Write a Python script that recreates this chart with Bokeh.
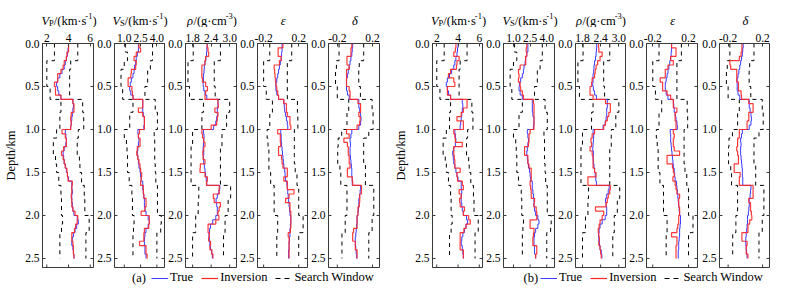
import numpy as np
from bokeh.plotting import figure
from bokeh.layouts import row, column
from bokeh.models import (Range1d, FixedTicker, PrintfTickFormatter,
                          Label, Legend, LegendItem)
from bokeh.embed import file_html
from bokeh.resources import INLINE

# ---------------------------------------------------------------- data
# true / inversion profiles: 50 layers of 0.05 km from 0 to 2.5 km
layer_dz = 0.05
n_layers = 50
# search-window bounds: layer boundaries (km)
win_z = [0.0, 0.1, 0.2, 0.3, 0.4, 0.5, 0.65, 0.8, 1.0, 1.1, 1.2, 1.3, 1.4, 1.5,
         1.65, 1.8, 2.0, 2.1, 2.2, 2.3, 2.4, 2.5]

vp_true = [4.0, 3.95, 3.9, 3.8, 3.7, 3.6, 3.4, 3.2, 3.0, 2.9,
           3.0, 3.1, 3.3, 4.4, 4.45, 4.4, 4.35, 4.3, 4.25, 4.2,
           3.7, 3.75, 3.8, 3.75, 3.6, 3.5, 3.55, 3.6, 3.7, 3.8,
           3.9, 4.0, 4.3, 4.3, 4.35, 4.3, 4.3, 4.35, 4.4, 4.5,
           4.8, 4.9, 4.75, 4.6, 4.45, 4.35, 4.3, 4.4, 4.45, 4.5]
vp_inv_a = [4.0, 4.0, 3.85, 3.8, 3.6, 3.5, 3.3, 3.0, 3.0, 2.7,
            2.8, 2.8, 3.3, 4.4, 4.5, 4.5, 4.25, 4.2, 4.25, 4.2,
            3.4, 3.7, 3.8, 3.8, 3.55, 3.35, 3.5, 3.6, 3.7, 3.85,
            3.9, 3.95, 4.35, 4.3, 4.3, 4.25, 4.3, 4.3, 4.4, 4.6,
            4.85, 4.8, 4.65, 4.55, 4.3, 4.3, 4.4, 4.45, 4.45, 4.5]
vp_inv_b = [3.8, 3.75, 3.6, 4.1, 3.9, 3.85, 3.3, 3.1, 3.6, 3.7,
            3.0, 3.0, 3.3, 4.85, 4.85, 4.5, 4.3, 3.9, 4.5, 4.5,
            3.6, 3.7, 3.75, 4.4, 3.6, 3.6, 3.65, 3.7, 3.7, 4.2,
            3.9, 3.95, 4.4, 4.5, 4.1, 4.3, 4.15, 4.2, 4.6, 4.5,
            5.0, 5.15, 4.75, 4.55, 4.2, 4.2, 4.2, 4.2, 4.5, 4.5]
vp_lo = [2.7, 2.7, 2.0, 2.0, 2.0, 2.3, 3.3, 3.2, 2.9, 2.6, 2.6, 2.8, 2.9, 3.1,
         3.3, 3.35, 3.45, 3.35, 3.2, 3.2, 3.2]
vp_hi = [4.85, 4.85, 4.2, 4.1, 4.1, 4.1, 5.3, 5.4, 4.9, 4.8, 4.8, 5.0, 5.05, 5.2,
         5.45, 5.5, 5.9, 5.9, 5.6, 5.6, 5.6]

vs_true = [2.3, 2.3, 2.2, 2.1, 2.05, 1.95, 1.9, 1.8, 1.65, 1.55,
           1.5, 1.6, 1.8, 2.7, 2.7, 2.7, 2.75, 2.85, 2.85, 2.8,
           2.25, 2.3, 2.35, 2.3, 2.25, 2.2, 2.25, 2.3, 2.35, 2.45,
           2.5, 2.55, 2.7, 2.7, 2.75, 2.8, 2.85, 2.85, 2.9, 3.0,
           3.2, 3.3, 3.2, 3.0, 2.9, 2.85, 2.85, 2.9, 2.9, 3.0]
vs_inv_a = [2.35, 2.5, 2.1, 1.9, 2.1, 2.05, 1.65, 1.6, 1.35, 1.35,
            1.7, 1.75, 1.8, 2.7, 2.7, 2.3, 2.7, 2.85, 2.85, 2.85,
            2.4, 2.3, 2.45, 2.45, 2.2, 2.15, 2.25, 2.35, 2.45, 2.5,
            2.6, 2.55, 2.5, 2.75, 2.75, 2.8, 3.0, 3.0, 2.9, 2.55,
            3.3, 3.3, 3.25, 2.85, 2.8, 2.8, 2.4, 3.0, 3.0, 3.1]
vs_inv_b = [2.2, 2.15, 2.2, 2.1, 2.1, 1.6, 1.45, 1.5, 1.45, 1.6,
            1.65, 1.8, 1.9, 2.8, 2.85, 2.85, 2.85, 2.85, 2.85, 2.85,
            2.5, 2.4, 2.4, 2.35, 2.0, 2.0, 2.3, 2.3, 2.4, 2.6,
            2.6, 2.6, 2.5, 2.55, 2.6, 2.6, 2.9, 2.85, 3.05, 3.1,
            3.1, 2.5, 2.5, 2.85, 2.8, 2.75, 2.75, 3.1, 3.1, 3.0]
vs_lo = [1.1, 1.3, 1.0, 0.7, 0.7, 0.85, 1.8, 1.5, 1.0, 1.2, 1.25, 1.3, 1.3, 1.45,
         1.7, 1.75, 1.9, 1.85, 1.8, 1.8, 1.8]
vs_hi = [3.6, 3.6, 3.4, 3.15, 3.15, 2.9, 3.85, 4.05, 3.75, 3.8, 3.8, 3.8, 3.85, 3.9,
         4.05, 4.05, 4.4, 4.35, 4.0, 4.0, 4.0]

rho_true = [2.27, 2.26, 2.25, 2.23, 2.2, 2.18, 2.17, 2.15, 2.15, 2.14,
            2.16, 2.2, 2.26, 2.62, 2.62, 2.6, 2.6, 2.58, 2.55, 2.48,
            2.15, 2.17, 2.16, 2.15, 2.14, 2.16, 2.15, 2.16, 2.18, 2.2,
            2.22, 2.24, 2.26, 2.68, 2.65, 2.6, 2.56, 2.58, 2.6, 2.6,
            2.55, 2.45, 2.38, 2.35, 2.33, 2.34, 2.36, 2.38, 2.42, 2.44]
rho_inv_a = [2.27, 2.3, 2.32, 2.22, 2.2, 2.1, 2.1, 2.1, 2.12, 2.22,
             2.28, 2.22, 2.2, 2.62, 2.63, 2.52, 2.62, 2.6, 2.58, 2.4,
             2.1, 2.12, 2.16, 2.2, 2.16, 2.13, 2.14, 2.2, 2.05, 2.04,
             2.2, 2.28, 2.25, 2.66, 2.66, 2.47, 2.5, 2.7, 2.66, 2.62,
             2.65, 2.55, 2.3, 2.3, 2.34, 2.32, 2.38, 2.36, 2.42, 2.46]
rho_inv_b = [2.33, 2.34, 2.45, 2.38, 2.3, 2.25, 2.22, 2.2, 2.12, 2.1,
             2.05, 2.05, 2.15, 2.56, 2.72, 2.72, 2.67, 2.62, 2.56, 2.5,
             2.2, 2.12, 2.08, 2.1, 2.05, 2.12, 2.15, 2.15, 2.15, 2.2,
             2.25, 1.98, 1.98, 2.72, 2.7, 2.65, 2.62, 2.58, 2.23, 2.5,
             2.45, 2.38, 2.35, 2.32, 2.34, 2.36, 2.34, 2.38, 2.4, 2.42]
rho_lo = [1.82, 1.82, 1.65, 1.65, 1.65, 1.7, 2.15, 2.1, 1.8, 1.8, 1.75, 1.75, 1.75,
          1.75, 2.0, 1.98, 1.9, 1.9, 1.8, 1.8, 1.8]
rho_hi = [2.7, 2.7, 2.5, 2.5, 2.5, 2.53, 3.0, 2.9, 2.75, 2.75, 2.7, 2.7, 2.7, 2.7,
          3.03, 2.95, 2.85, 2.85, 2.8, 2.8, 2.8]

eps_true = [0.01, 0.01, 0.005, 0.0, -0.01, -0.02, -0.03, -0.04, -0.05, -0.06,
            -0.06, -0.05, -0.03, 0.03, 0.035, 0.04, 0.05, 0.06, 0.07, 0.075,
            -0.005, 0.0, 0.0, 0.005, 0.01, 0.015, 0.02, 0.025, 0.03, 0.04,
            0.045, 0.05, 0.065, 0.07, 0.075, 0.08, 0.085, 0.09, 0.095, 0.1,
            0.11, 0.11, 0.105, 0.1, 0.1, 0.095, 0.09, 0.09, 0.085, 0.085]
eps_inv_a = [0.02, -0.035, -0.035, 0.0, -0.02, -0.08, -0.075, -0.07, -0.065, -0.06,
             -0.05, -0.04, -0.03, 0.03, 0.06, 0.06, 0.07, 0.1, 0.1, 0.11,
             -0.04, -0.01, -0.01, -0.005, -0.03, -0.03, 0.005, 0.01, 0.02, 0.07,
             0.07, 0.03, 0.07, 0.07, 0.146, 0.09, 0.05, 0.1, 0.1, 0.11,
             0.11, 0.11, 0.11, 0.105, 0.08, 0.09, 0.09, 0.09, 0.09, 0.09]
eps_inv_b = [0.01, 0.06, 0.06, 0.0, 0.03, -0.03, -0.06, -0.06, -0.117, -0.09,
             -0.09, -0.04, 0.0, 0.03, 0.03, 0.07, 0.05, 0.05, 0.06, 0.06,
             0.03, 0.04, 0.03, 0.03, 0.04, 0.1, -0.04, -0.04, 0.02, 0.03,
             0.04, 0.025, 0.05, 0.06, 0.07, 0.1, 0.09, 0.09, 0.1, 0.1,
             0.09, 0.09, 0.08, 0.07, 0.01, 0.07, 0.07, 0.06, 0.06, 0.06]
eps_lo = [-0.13, -0.13, -0.2, -0.2, -0.2, -0.17, -0.1, -0.13, -0.16, -0.15, -0.14,
          -0.14, -0.14, -0.12, -0.08, -0.08, -0.04, -0.04, -0.05, -0.05, -0.05]
eps_hi = [0.12, 0.12, 0.07, 0.07, 0.07, 0.07, 0.185, 0.19, 0.15, 0.15, 0.15, 0.15,
          0.16, 0.18, 0.2, 0.2, 0.25, 0.25, 0.2, 0.2, 0.2]

delta_true = [-0.025, -0.03, -0.035, -0.045, -0.055, -0.065, -0.075, -0.085, -0.095, -0.095,
              -0.095, -0.085, -0.065, 0.045, 0.045, 0.055, 0.065, 0.07, 0.065, 0.045,
              -0.035, -0.045, -0.055, -0.05, -0.055, -0.055, -0.05, -0.045, -0.04, -0.035,
              -0.035, -0.03, -0.03, 0.065, 0.06, 0.055, 0.045, 0.045, 0.04, 0.035,
              0.025, 0.025, 0.02, 0.015, 0.01, 0.005, 0.005, 0.01, 0.015, 0.02]
delta_inv_a = [-0.035, -0.045, -0.045, -0.09, -0.09, -0.065, -0.095, -0.095, -0.095, -0.095,
               -0.065, -0.055, -0.055, 0.035, 0.065, 0.065, 0.045, 0.06, 0.055, 0.025,
               -0.095, -0.065, -0.125, -0.085, -0.075, -0.075, -0.065, -0.065, -0.055, -0.085,
               -0.085, -0.03, -0.025, 0.075, 0.075, 0.055, 0.055, 0.05, 0.035, 0.035,
               0.025, 0.025, 0.025, -0.015, -0.025, -0.025, 0.005, 0.005, 0.025, 0.025]
delta_inv_b = [-0.04, -0.04, -0.05, -0.07, -0.18, -0.17, -0.1, -0.1, -0.1, -0.08,
               -0.08, -0.05, -0.045, 0.04, 0.09, 0.09, 0.04, 0.04, 0.02, 0.02,
               -0.07, -0.07, -0.09, -0.09, -0.1, -0.09, -0.08, -0.08, -0.13, -0.13,
               -0.06, -0.07, -0.07, 0.09, 0.09, 0.09, 0.04, 0.06, 0.06, 0.07,
               0.075, 0.05, 0.03, 0.03, -0.04, -0.04, 0.02, 0.01, 0.01, 0.03]
delta_lo = [-0.18, -0.18, -0.21, -0.22, -0.22, -0.2, -0.07, -0.09, -0.15, -0.19, -0.195,
            -0.195, -0.17, -0.16, -0.09, -0.09, -0.11, -0.11, -0.147, -0.147, -0.147]
delta_hi = [0.1, 0.1, 0.05, 0.044, 0.044, 0.063, 0.196, 0.207, 0.158, 0.1, 0.1, 0.1,
            0.12, 0.12, 0.215, 0.215, 0.196, 0.196, 0.158, 0.158, 0.158]

y_ticks = [0.0, 0.5, 1.0, 1.5, 2.0, 2.5]
legend_labels = ["True", "Inversion", "Search Window"]
group_tags = ["(a)", "(b)"]

# ---------------------------------------------------------------- style
FONT = "Liberation Serif"
BLUE = "#3b3bff"
RED = "#ff2424"
FRAME = "#3a3a3a"
DEPTH_MAX = 2.605
TITLE_H = 27
LEG_H = 20
PANEL_H = 290 - TITLE_H - LEG_H
ADV = {"V": 0.611, "P": 0.556, "S": 0.556, "/": 0.278, "(": 0.333, ")": 0.333,
       "k": 0.5, "m": 0.778, "·": 0.25, "s": 0.389, "-": 0.333, "1": 0.5, "3": 0.5,
       "g": 0.5, "c": 0.444, "ρ": 0.52, "ε": 0.44, "δ": 0.5}

params = [
    dict(xr=(1.6, 6.3), ticks=[2, 4, 6], fmt="%d",
         title=[("V", "i"), ("P", "sub"), ("/(km·s", "n"), ("-1", "sup"), (")", "n")],
         true=vp_true, lo=vp_lo, hi=vp_hi, inv=[vp_inv_a, vp_inv_b]),
    dict(xr=(0.1, 4.7), ticks=[1.0, 2.5, 4.0], fmt="%.1f",
         title=[("V", "i"), ("S", "sub"), ("/(km·s", "n"), ("-1", "sup"), (")", "n")],
         true=vs_true, lo=vs_lo, hi=vs_hi, inv=[vs_inv_a, vs_inv_b]),
    dict(xr=(1.57, 3.22), ticks=[1.8, 2.4, 3.0], fmt="%.1f",
         title=[("ρ", "i"), ("/(g·cm", "n"), ("-3", "sup"), (")", "n")],
         true=rho_true, lo=rho_lo, hi=rho_hi, inv=[rho_inv_a, rho_inv_b]),
    dict(xr=(-0.27, 0.30), ticks=[-0.2, 0.2], fmt="%.1f",
         title=[("ε", "i")],
         true=eps_true, lo=eps_lo, hi=eps_hi, inv=[eps_inv_a, eps_inv_b]),
    dict(xr=(-0.30, 0.28), ticks=[-0.2, 0.2], fmt="%.1f",
         title=[("δ", "i")],
         true=delta_true, lo=delta_lo, hi=delta_hi, inv=[delta_inv_a, delta_inv_b]),
]

# frame left edge and width (px) of every panel; right borders
frames = [(42, 51), (113, 51), (185, 51), (257, 50), (328, 51),
          (432, 50), (503, 51), (574, 51), (646, 51), (719, 50)]
right_pad = [1, 1, 1, 1, 11, 1, 1, 1, 1, 24]

prof_z = list(np.round(np.arange(n_layers + 1) * layer_dz, 3))


def stairs(vals, bounds):
    xs, ys = [], []
    for k, v in enumerate(vals):
        xs += [v, v]
        ys += [bounds[k], bounds[k + 1]]
    return xs, ys


def text_w(t, size):
    return sum(ADV.get(ch, 0.5) for ch in t) * size


def style_axis(ax):
    ax.major_tick_in = 3
    ax.major_tick_out = 0
    ax.minor_tick_in = 0
    ax.minor_tick_out = 0
    ax.axis_line_color = FRAME
    ax.major_tick_line_color = FRAME
    ax.major_label_text_font = FONT
    ax.major_label_text_font_size = "11.5px"
    ax.major_label_text_color = "black"
    ax.major_label_standoff = 3


# ---------------------------------------------------------------- title row
pt = figure(width=793, height=TITLE_H, x_range=Range1d(0, 793),
            y_range=Range1d(0, TITLE_H), toolbar_location=None,
            output_backend="svg", min_border=0, x_axis_type=None, y_axis_type=None)
pt.outline_line_color = None
pt.background_fill_color = "white"
pt.border_fill_color = "white"


def add_title(segs, xc):
    sizes = {"i": 12.5, "n": 12.5, "sub": 8.5, "sup": 8.5}
    widths = [text_w(t, sizes[s]) for t, s in segs]
    x0 = -sum(widths) / 2.0
    for (t, s), w in zip(segs, widths):
        dy = {"sub": -2.5, "sup": 5.0}.get(s, 0.0)
        pt.add_layout(Label(x=xc, y=7.0, x_offset=x0, y_offset=dy, text=t,
                            text_font=FONT, text_font_size=f"{sizes[s]}px",
                            text_font_style="italic" if s == "i" else "normal",
                            text_align="left", text_baseline="alphabetic",
                            text_color="black"))
        x0 += w


# ---------------------------------------------------------------- panels
panels = []
cursor = 0
for k, (fx, fw) in enumerate(frames):
    g = k // 5
    prm = params[k % 5]
    L = fx - cursor
    R = right_pad[k]
    W = L + fw + R
    cursor += W
    p = figure(width=W, height=PANEL_H, x_range=Range1d(*prm["xr"]),
               y_range=Range1d(DEPTH_MAX, 0), x_axis_location="above",
               toolbar_location=None, output_backend="svg",
               min_border_left=L, min_border_right=R, min_border_top=43 - TITLE_H,
               min_border_bottom=3)
    p.grid.visible = False
    p.outline_line_color = FRAME
    p.outline_line_width = 1
    p.background_fill_color = "white"
    p.border_fill_color = "white"

    xa = p.xaxis[0]
    ya = p.yaxis[0]
    xa.ticker = FixedTicker(ticks=prm["ticks"])
    xa.formatter = PrintfTickFormatter(format=prm["fmt"])
    ya.ticker = FixedTicker(ticks=y_ticks)
    ya.formatter = PrintfTickFormatter(format="%.1f")
    style_axis(xa)
    style_axis(ya)
    xa.major_label_standoff = 2
    if k % 5 == 0:
        ya.axis_label = "Depth/km"
        ya.axis_label_text_font = FONT
        ya.axis_label_text_font_size = "12.5px"
        ya.axis_label_text_font_style = "normal"
        ya.axis_label_text_color = "black"
        ya.axis_label_standoff = 4

    # mirrored inner ticks on the bottom and right frame edges
    p.scatter(x=prm["ticks"], y=[DEPTH_MAX] * len(prm["ticks"]), marker="dash",
              size=6, angle=np.pi / 2, line_color=FRAME, line_width=1)
    p.scatter(x=[prm["xr"][1]] * len(y_ticks), y=y_ticks, marker="dash",
              size=6, line_color=FRAME, line_width=1)

    xs, ys = stairs(prm["lo"], win_z)
    p.line(xs, ys, color="black", line_width=1, line_dash="4 4")
    xs, ys = stairs(prm["hi"], win_z)
    p.line(xs, ys, color="black", line_width=1, line_dash="4 4")
    xs, ys = stairs(prm["true"], prof_z)
    p.line(xs, ys, color=BLUE, line_width=1)
    xs, ys = stairs(prm["inv"][g], prof_z)
    p.line(xs, ys, color=RED, line_width=1.2, alpha=0.9)

    add_title(prm["title"], fx + fw / 2.0 + 1)
    panels.append(p)

# ---------------------------------------------------------------- legend row
pl = figure(width=793, height=LEG_H, x_range=Range1d(0, 793),
            y_range=Range1d(0, LEG_H), toolbar_location=None,
            output_backend="svg", min_border=0, x_axis_type=None, y_axis_type=None)
pl.outline_line_color = None
pl.background_fill_color = "white"
pl.border_fill_color = "white"

nan = [float("nan")]
for tag, tag_x, leg_x in zip(group_tags, [131.5, 523.0], [151, 540]):
    r_t = pl.line(x=nan, y=nan, color=BLUE, line_width=1)
    r_i = pl.line(x=nan, y=nan, color=RED, line_width=1.2)
    r_w = pl.line(x=nan, y=nan, color="black", line_width=1, line_dash="5 4")
    leg = Legend(items=[LegendItem(label=legend_labels[0], renderers=[r_t]),
                        LegendItem(label=legend_labels[1], renderers=[r_i]),
                        LegendItem(label=legend_labels[2], renderers=[r_w])],
                 location=(leg_x, 5), orientation="horizontal", padding=0, margin=0,
                 spacing=8, label_standoff=2, glyph_width=17, glyph_height=14,
                 label_height=14, label_width=10, border_line_color=None,
                 background_fill_alpha=0, label_text_font=FONT,
                 label_text_font_size="12.5px", label_text_color="black")
    pl.add_layout(leg)
    pl.add_layout(Label(x=tag_x, y=12.3, text=tag, text_font=FONT,
                        text_font_size="12.5px", text_baseline="middle",
                        text_align="left", text_color="black"))

layout = column(pt, row(*panels), pl)
open("out.html", "w").write(file_html(layout, INLINE))
